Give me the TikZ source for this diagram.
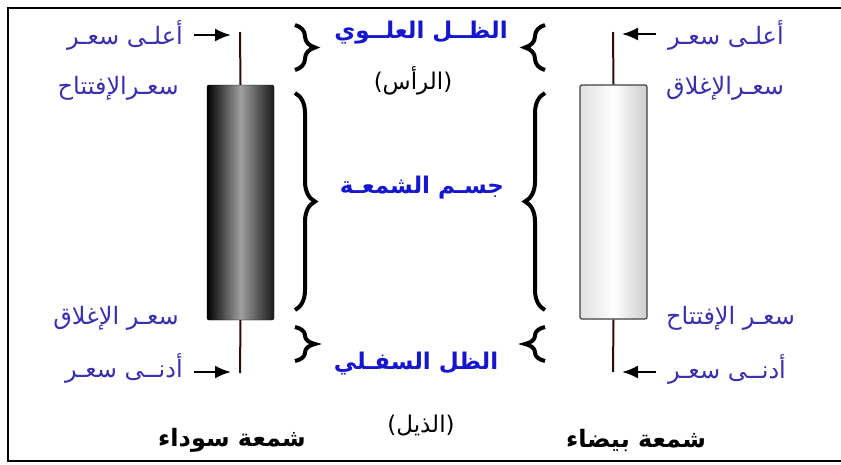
\documentclass[tikz,border=0pt]{standalone}
\usepackage{fontspec}
\usepackage{tikz}
\usepackage{xcolor}
\usetikzlibrary{positioning}
\usetikzlibrary{shapes, arrows, arrows.meta}
\usetikzlibrary{decorations.pathreplacing}
\TeXXeTstate=1
\newfontfamily\arabicfont[Script=Arabic]{DejaVu Sans}
\definecolor{pricecol}{RGB}{58,48,172}
\definecolor{partcol}{RGB}{22,22,205}
\definecolor{wickcol}{RGB}{50,10,10}
\tikzstyle{price} = [text=pricecol, font=\arabicfont\fontsize{24}{28}\selectfont, inner sep=0pt]
\tikzstyle{part} = [text=partcol, font=\arabicfont\bfseries\fontsize{23}{27}\selectfont, inner sep=0pt]
\tikzstyle{note} = [text=black, font=\arabicfont\fontsize{23}{27}\selectfont, inner sep=0pt]
\tikzstyle{title} = [text=black, font=\arabicfont\bfseries\fontsize{24}{28}\selectfont, inner sep=0pt]
\tikzstyle{blackcandle} = [rectangle, draw=black, rounded corners=2pt, minimum width=67pt, minimum height=235pt,
left color=black, right color=black!90, middle color=gray!75]
\tikzstyle{whitecandle} = [rectangle, draw=black!75, line width=1.2pt, rounded corners=2pt, minimum width=67pt, minimum height=234pt,
left color=gray!25, right color=gray!40, middle color=white]
\tikzstyle{wick} = [draw=wickcol, line width=2pt]
\tikzstyle{line} = [draw, line width=2.2pt, -{Latex[length=16pt, width=13pt]}]
\tikzstyle{curly} = [draw, line width=4pt, decorate, decoration={brace, amplitude=20pt}]

\begin{document}
\begin{tikzpicture}[x=1pt, y=-1pt]
	\useasboundingbox (0,0) rectangle (841,464);
	\draw [line width=1.6pt] (841,8) -- (8,8) -- (8,461) -- (841,461);
	
	% Place candles
	\node [blackcandle] (black candle) at (240.5,202.5) {};
	\node [whitecandle] (white candle) at (613.5,202) {};
	\coordinate (black high) at (240,32);
	\coordinate (black low) at (240,373);
	\coordinate (white high) at (613,32);
	\coordinate (white low) at (613,372);
	\coordinate (black high tip) at (231,35);
	\coordinate (black low tip) at (231,372);
	\coordinate (white high tip) at (622,34);
	\coordinate (white low tip) at (622,372);
	
	% Place labels
	\node [price, anchor=east] (black high label)  at (183,35)  {\beginR أعلـى سعـر\endR};
	\node [price, anchor=east] (black open label)  at (179,88)  {\beginR سعـرالإفتتاح\endR};
	\node [price, anchor=east] (black close label) at (179,318) {\beginR سعـر الإغلاق\endR};
	\node [price, anchor=east] (black low label)   at (183,368) {\beginR أدنــى سعـر\endR};
	\node [price, anchor=west] (white high label)  at (668,35)  {\beginR أعلـى سعـر\endR};
	\node [price, anchor=west] (white close label) at (666,88)  {\beginR سعـرالإغلاق\endR};
	\node [price, anchor=west] (white open label)  at (666,318) {\beginR سعـر الإفتتاح\endR};
	\node [price, anchor=west] (white low label)   at (668,369) {\beginR أدنــى سعـر\endR};
	
	\node [part] (upper shadow) at (421,33)  {\beginR الظــل العلــوي\endR};
	\node [note] (head)         at (413,81)  {\beginR (الرأس)\endR};
	\node [part] (body)         at (422,188) {\beginR جسـم الشمعـة\endR};
	\node [part] (lower shadow) at (416,364) {\beginR الظل السفـلي\endR};
	\node [note] (tail)         at (421,426) {\beginR (الذيل)\endR};
	
	\node [title] (black title) at (232,440) {\beginR شمعة سوداء\endR};
	\node [title] (white title) at (636,440) {\beginR شمعة بيضاء\endR};
	
	%Draw wicks and arrows
	\draw [wick] (black candle.north) -- (black high);
	\draw [wick] (black candle.south) -- (black low);
	\draw [wick] (white candle.north) -- (white high);
	\draw [wick] (white candle.south) -- (white low);
	\path [line] ([xshift=11pt]black high label.east |- black high tip) -- (black high tip);
	\path [line] ([xshift=11pt]black low label.east |- black low tip)   -- (black low tip);
	\path [line] ([xshift=-12pt]white high label.west |- white high tip) -- (white high tip);
	\path [line] ([xshift=-12pt]white low label.west |- white low tip)   -- (white low tip);
	
	%Draw braces
	\draw [curly] (295,25)  -- (295,70);
	\draw [curly] (295,93)  -- (295,310);
	\draw [curly] (295,327) -- (295,361);
	\draw [curly] (545,70)  -- (545,25);
	\draw [curly] (545,310) -- (545,93);
	\draw [curly] (545,361) -- (545,327);
	
\end{tikzpicture}
\end{document}
